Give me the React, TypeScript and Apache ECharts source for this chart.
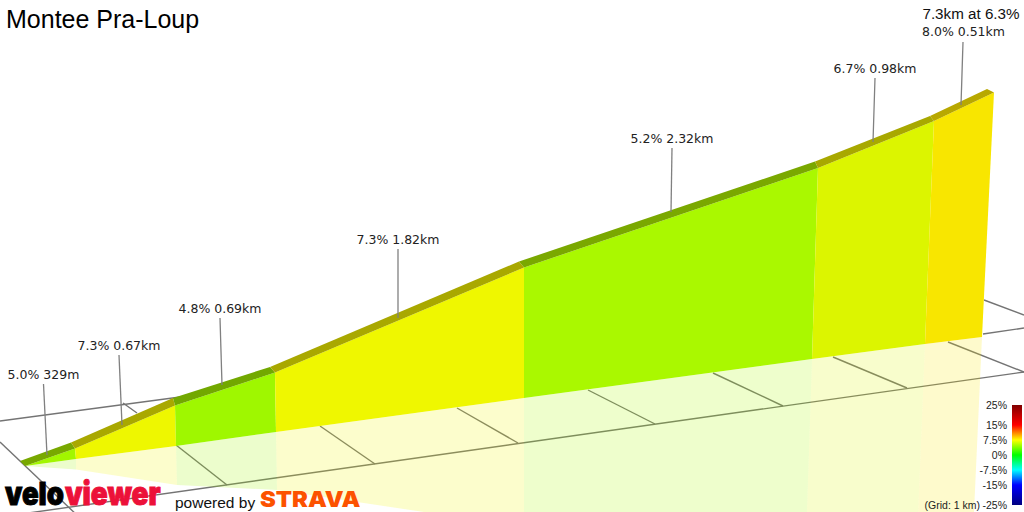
import React, { useEffect, useRef } from "react";
import * as echarts from "echarts";

const TITLE = "Montee Pra-Loup";
const SUMMARY = "7.3km at 6.3%";
const GRID_NOTE = "(Grid: 1 km)";

const grades = [5.0, 7.3, 4.8, 7.3, 5.2, 6.7, 8.0];
const lengths = ["329m", "0.67km", "0.69km", "1.82km", "2.32km", "0.98km", "0.51km"];

// projected outline of the climb, one vertex per segment boundary (chart units)
const ridgeX = [20, 71, 173, 270, 519, 815, 930, 987];
const ridgeY = [461, 442.5, 398, 367, 261.5, 161.5, 116, 89];
const crestX = [25, 75, 175, 275, 524, 818, 934, 994];
const crestY = [466, 448.5, 405.5, 372.5, 267.5, 168, 121, 92.5];
const baseX = [25, 76, 176, 276, 524, 812, 925, 982];
const baseY = [466, 459, 446, 432, 398, 359, 344, 337];
const mirrorX = [25, 76, 177, 277, 524, 805, 915, 970];
const mirrorY = [466, 469.5, 485, 490, 527, 570, 590, 600];

// leader lines: label anchor -> point on the ridge
const labelX = [43.5, 119, 220, 398, 672, 875, 963.5];
const labelY = [374, 345, 308, 239, 138, 68, 31];
const leaderTopX = [43.5, 119, 220, 398, 672, 875, 963];
const leaderTopY = [384, 355, 318, 249, 148, 78, 42];
const leaderEndX = [47, 122, 222, 398, 671, 873, 961];
const leaderEndY = [455, 425, 385, 318, 212, 142, 105];

// ground grid
const gridLines = [
  [0, 517, 1024, 372],
  [0, 421, 180, 397],
  [983, 334, 1024, 328],
  [0, 442, 80, 518],
  [123, 403, 137, 413],
  [176, 445, 227, 485],
  [320, 426, 375, 464],
  [457, 408, 518, 443],
  [588, 390, 655, 424],
  [713, 373, 783, 406],
  [833, 357, 907, 388],
  [948, 342, 1024, 372],
  [984, 300, 1024, 315],
];

const scaleLabels = ["25%", "15%", "7.5%", "0%", "-7.5%", "-15%", "-25%"];
const scaleLabelY = [405, 425, 440, 455, 470, 485, 505];

const wallColors = ["#a2f600", "#eef700", "#9ff700", "#eff700", "#aaf800", "#dcf500", "#f8e600"];
const ridgeColors = ["#78a800", "#a9a800", "#72a800", "#a9a800", "#7aa800", "#a8a800", "#b8a800"];

const MONO = "DejaVu Sans";
const SANS = "Liberation Sans";

function polySeries(z: number, pts: (i: number) => number[][], fill: (i: number) => string, opacity = 1) {
  return {
    type: "custom",
    z,
    silent: true,
    clip: false,
    coordinateSystem: "cartesian2d",
    data: grades.map((_, i) => [i]),
    renderItem: (_: any, api: any) => {
      const i = api.value(0);
      return {
        type: "polygon",
        shape: { points: pts(i).map((p) => api.coord(p)) },
        style: { fill: fill(i), opacity },
      };
    },
  };
}

export default function App() {
  const ref = useRef<HTMLDivElement>(null);
  useEffect(() => {
    document.body.style.margin = "0";
    const chart = echarts.init(ref.current!, undefined, { renderer: "svg" });
    chart.setOption({
      animation: false,
      backgroundColor: "#ffffff",
      title: {
        text: TITLE,
        left: 6,
        top: 6,
        padding: 0,
        textStyle: { fontFamily: SANS, fontSize: 25, fontWeight: "normal", color: "#000" },
      },
      grid: { left: 0, right: 0, top: 0, bottom: 0 },
      xAxis: { type: "value", min: 0, max: 1024, show: false },
      yAxis: { type: "value", min: 0, max: 512, inverse: true, show: false },
      series: [
        {
          type: "custom",
          z: 1,
          silent: true,
          clip: false,
          data: gridLines,
          renderItem: (_: any, api: any) => {
            const a = api.coord([api.value(0), api.value(1)]);
            const b = api.coord([api.value(2), api.value(3)]);
            return {
              type: "line",
              shape: { x1: a[0], y1: a[1], x2: b[0], y2: b[1] },
              style: { stroke: "#747474", lineWidth: 1.4 },
            };
          },
        },
        polySeries(
          2,
          (i) => [
            [baseX[i], baseY[i]],
            [baseX[i + 1], baseY[i + 1]],
            [mirrorX[i + 1], mirrorY[i + 1]],
            [mirrorX[i], mirrorY[i]],
          ],
          (i) => wallColors[i],
          0.2
        ),
        polySeries(
          3,
          (i) => [
            [crestX[i], crestY[i]],
            [crestX[i + 1], crestY[i + 1]],
            [baseX[i + 1], baseY[i + 1]],
            [baseX[i], baseY[i]],
          ],
          (i) => wallColors[i]
        ),
        polySeries(
          4,
          (i) => [
            [ridgeX[i], ridgeY[i]],
            [ridgeX[i + 1], ridgeY[i + 1]],
            [crestX[i + 1], crestY[i + 1]],
            [crestX[i], crestY[i]],
          ],
          (i) => ridgeColors[i]
        ),
        {
          type: "custom",
          z: 5,
          silent: true,
          clip: false,
          data: grades.map((_, i) => [i]),
          renderItem: (_: any, api: any) => {
            const i = api.value(0);
            const a = api.coord([leaderTopX[i], leaderTopY[i]]);
            const b = api.coord([leaderEndX[i], leaderEndY[i]]);
            const c = api.coord([labelX[i], labelY[i]]);
            return {
              type: "group",
              children: [
                {
                  type: "line",
                  shape: { x1: a[0], y1: a[1], x2: b[0], y2: b[1] },
                  style: { stroke: "#808080", lineWidth: 1.3 },
                },
                {
                  type: "text",
                  style: {
                    x: c[0],
                    y: c[1],
                    text: `${grades[i].toFixed(1)}% ${lengths[i]}`,
                    fill: "#222",
                    font: `12.5px "${MONO}"`,
                    align: "center",
                    verticalAlign: "middle",
                  },
                },
              ],
            };
          },
        },
      ],
      graphic: [
        {
          type: "text",
          z: 10,
          x: 971,
          y: 13,
          style: {
            text: SUMMARY,
            fill: "#111",
            font: `15.2px "${SANS}"`,
            align: "center",
            verticalAlign: "middle",
          },
        },
        {
          type: "rect",
          z: 10,
          shape: { x: 1012, y: 405, width: 10, height: 100 },
          style: {
            fill: new echarts.graphic.LinearGradient(0, 0, 0, 1, [
              { offset: 0, color: "#800000" },
              { offset: 0.2, color: "#ff0000" },
              { offset: 0.35, color: "#ffff00" },
              { offset: 0.5, color: "#00ff00" },
              { offset: 0.65, color: "#00ffff" },
              { offset: 0.8, color: "#0000ff" },
              { offset: 1, color: "#000080" },
            ]),
          },
        },
        ...scaleLabels.map((t, i) => ({
          type: "text",
          z: 10,
          x: 1007,
          y: scaleLabelY[i],
          style: { text: t, fill: "#222", font: `10.5px "${SANS}"`, align: "right", verticalAlign: "middle" },
        })),
        {
          type: "text",
          z: 10,
          x: 980,
          y: 505,
          style: { text: GRID_NOTE, fill: "#222", font: `10.5px "${SANS}"`, align: "right", verticalAlign: "middle" },
        },
        {
          type: "text",
          z: 10,
          x: 5,
          y: 493.2,
          scaleX: 0.86,
          style: { text: "velo", fill: "#000", stroke: "#000", lineWidth: 1, font: `900 32px "Inter"`, align: "left", verticalAlign: "middle" },
        },
        {
          type: "text",
          z: 11,
          x: 65,
          y: 493.2,
          scaleX: 0.87,
          style: { text: "viewer", fill: "#ec1139", stroke: "#ec1139", lineWidth: 1, font: `900 32px "Inter"`, align: "left", verticalAlign: "middle" },
        },
        {
          type: "text",
          z: 10,
          x: 175,
          y: 502,
          style: { text: "powered by", fill: "#111", font: `15.5px "${SANS}"`, align: "left", verticalAlign: "middle" },
        },
        {
          type: "text",
          z: 10,
          x: 260,
          y: 499.4,
          scaleX: 1.08,
          style: { text: "STRAVA", fill: "#fc5200", font: `900 22px "Inter"`, align: "left", verticalAlign: "middle" },
        },
      ],
    });
    return () => chart.dispose();
  }, []);
  return (
    <div
      ref={ref}
      style={{ position: "absolute", left: 0, top: 0, width: 1024, height: 512, overflow: "hidden" }}
    />
  );
}
